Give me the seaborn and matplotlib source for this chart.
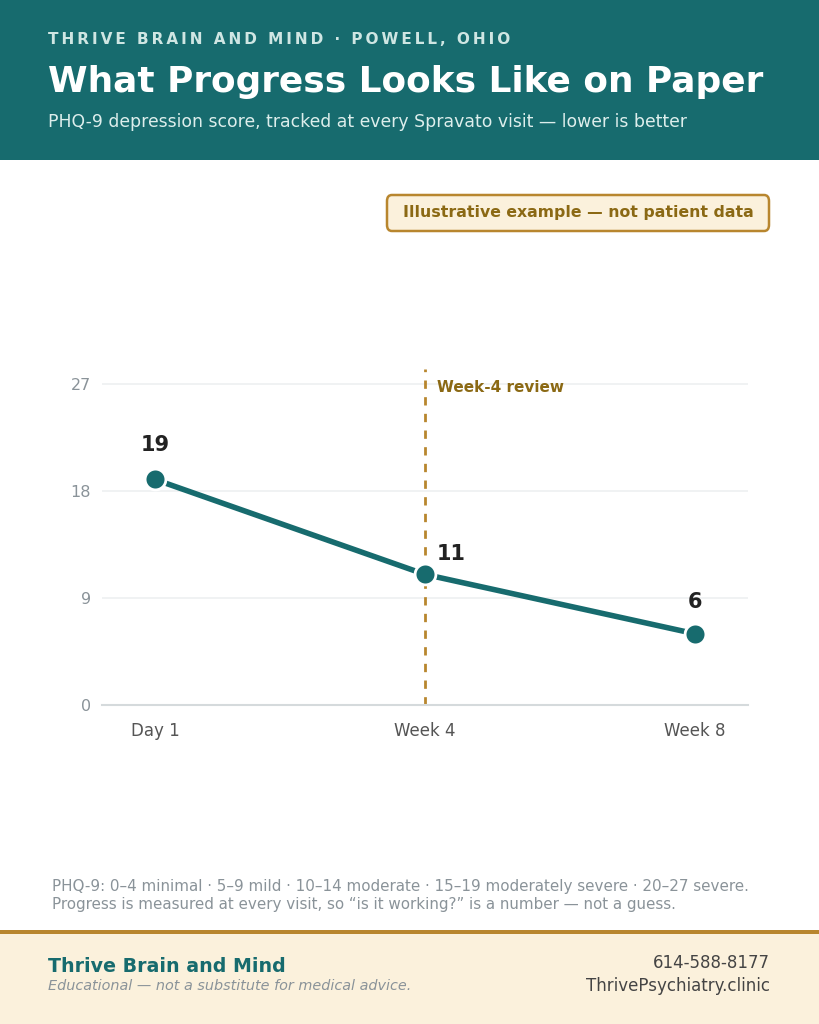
import matplotlib
matplotlib.use("Agg")
import matplotlib.pyplot as plt
import seaborn as sns
import pandas as pd
from matplotlib.patches import Rectangle, FancyBboxPatch

# Data (illustrative example)
visits = ["Day 1", "Week 4", "Week 8"]
scores = [19, 11, 6]
y_ticks = [0, 9, 18, 27]

TEAL = "#176B6E"
GOLD = "#B8862E"
BROWN = "#8B6914"
CREAM = "#FBF1DC"
GRAY = "#8A9399"

sns.set_theme(style="white")
plt.rcParams["font.family"] = ["DejaVu Sans"]

df = pd.DataFrame({"visit": visits, "score": scores})
df["pos"] = range(len(df))

W, H = 819, 1024
fig = plt.figure(figsize=(W / 100, H / 100), dpi=100)
fig.patch.set_facecolor("white")

def fx(x):
    return x / W

def fy(y):
    return 1 - y / H

def spaced(s):
    # letter-spacing with thin spaces
    return "\u2009".join(s)

# Header band
fig.patches.append(Rectangle((0, fy(160)), 1, 160 / H, transform=fig.transFigure,
                             facecolor=TEAL, edgecolor="none", zorder=0))
fig.text(fx(48), fy(39), spaced("THRIVE BRAIN AND MIND · POWELL, OHIO"),
         color="#CFE6E3", fontsize=11, fontweight="bold", va="center", ha="left")
fig.text(fx(48), fy(82), "What Progress Looks Like on Paper", color="white",
         fontsize=25.8, fontweight="bold", va="center", ha="left")
fig.text(fx(48), fy(122), "PHQ-9 depression score, tracked at every Spravato visit — lower is better",
         color="#DDEEEC", fontsize=12.45, va="center", ha="left")

# Badge
fig.patches.append(FancyBboxPatch((fx(387), fy(231)), fx(382), 36 / H,
                                  boxstyle="round,pad=0,rounding_size=0.006",
                                  transform=fig.transFigure, facecolor=CREAM,
                                  edgecolor=GOLD, linewidth=1.8, zorder=1))
fig.text(fx(578), fy(213), "Illustrative example — not patient data", color=BROWN,
         fontsize=11.35, fontweight="bold", va="center", ha="center", zorder=2)

# Chart axes
ax_left, ax_right = 102, 748
ax_top, ax_bottom = 369, 705
ax = fig.add_axes([fx(ax_left), fy(ax_bottom), (ax_right - ax_left) / W, (ax_bottom - ax_top) / H])
ax.set_facecolor("white")

for t in y_ticks[1:]:
    ax.axhline(t, color="#EEF0F1", lw=1.2, zorder=0)

ax.axvline(1, color=GOLD, lw=2, ls=(0, (3, 3)), zorder=1)
ax.text(1.045, 26.7, "Week-4 review", color=BROWN, fontsize=11, fontweight="bold",
        va="center", ha="left")

sns.lineplot(data=df, x="pos", y="score", ax=ax, color=TEAL, lw=4, marker="o",
             markersize=15, markeredgecolor="white", markeredgewidth=2, zorder=3)

offsets = [(0, 2.9, "center"), (0.045, 1.7, "left"), (0, 2.7, "center")]
for (x, y), (dx, dy, ha) in zip(zip(df["pos"], df["score"]), offsets):
    ax.text(x + dx, y + dy, str(y), fontsize=15, fontweight="bold", color="#222222",
            ha=ha, va="center")

ax.set_xlim(-0.196, 2.196)
ax.set_ylim(0, 28.3)
ax.set_yticks(y_ticks)
ax.set_xticks(df["pos"])
ax.set_xticklabels(visits)
ax.set_xlabel("")
ax.set_ylabel("")
ax.tick_params(axis="y", colors=GRAY, labelsize=11.5, length=0, pad=8)
ax.tick_params(axis="x", colors="#555555", labelsize=12, length=0, pad=12)
for side in ["top", "right", "left"]:
    ax.spines[side].set_visible(False)
ax.spines["bottom"].set_color("#D5DADC")
ax.spines["bottom"].set_linewidth(1.5)

# Footnote
fig.text(fx(52), fy(886), "PHQ-9: 0–4 minimal · 5–9 mild · 10–14 moderate · 15–19 moderately severe · 20–27 severe.",
         color=GRAY, fontsize=10.9, va="center", ha="left")
fig.text(fx(52), fy(905), "Progress is measured at every visit, so “is it working?” is a number — not a guess.",
         color=GRAY, fontsize=10.9, va="center", ha="left")

# Footer band
fig.patches.append(Rectangle((0, 0), 1, 91 / H, transform=fig.transFigure,
                             facecolor=CREAM, edgecolor="none", zorder=0))
fig.patches.append(Rectangle((0, fy(934)), 1, 4 / H, transform=fig.transFigure,
                             facecolor=GOLD, edgecolor="none", zorder=1))
fig.text(fx(48), fy(967), "Thrive Brain and Mind", color=TEAL, fontsize=13.7,
         fontweight="bold", va="center", ha="left")
fig.text(fx(48), fy(986), "Educational — not a substitute for medical advice.", color=GRAY,
         fontsize=10.4, style="italic", va="center", ha="left")
fig.text(fx(770), fy(963), "614-588-8177", color="#444444", fontsize=12, va="center", ha="right")
fig.text(fx(770), fy(986), "ThrivePsychiatry.clinic", color="#444444", fontsize=12,
         va="center", ha="right")

fig.savefig("out.png", dpi=100, facecolor=fig.get_facecolor())
